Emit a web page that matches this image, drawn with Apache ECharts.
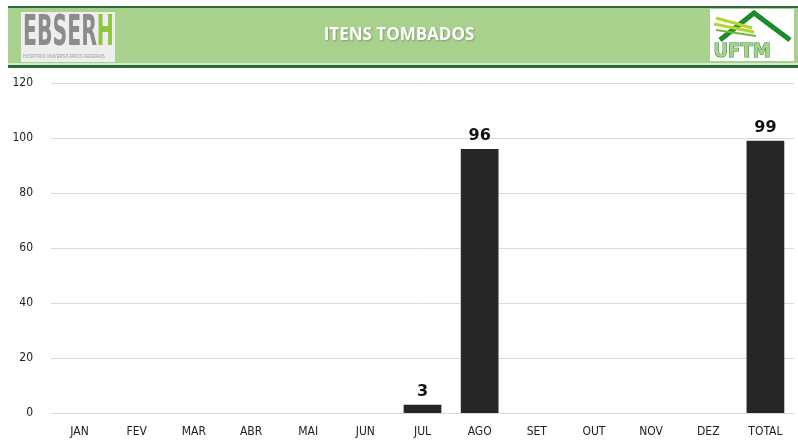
<!DOCTYPE html>
<html>
<head>
<meta charset="utf-8">
<script src="https://cdn.jsdelivr.net/npm/echarts@6/dist/echarts.min.js"></script>
<style>
  html, body { margin: 0; padding: 0; background: #fff; }
  #chart { width: 798px; height: 443px; }
</style>
</head>
<body>
<div id="chart"></div>
<script>
// chart data
const categories = ['JAN', 'FEV', 'MAR', 'ABR', 'MAI', 'JUN', 'JUL', 'AGO', 'SET', 'OUT', 'NOV', 'DEZ', 'TOTAL'];
const values = [null, null, null, null, null, null, 3, 96, null, null, null, null, 99];
const chartTitle = 'ITENS TOMBADOS';

const chart = echarts.init(document.getElementById('chart'));

const logoFont = 'bold 42px "DejaVu Sans Condensed", sans-serif';

const option = {
  animation: false,
  textStyle: { fontFamily: 'DejaVu Sans Condensed, Liberation Sans, sans-serif' },
  grid: { left: 51, right: 4, top: 83, bottom: 30 },
  graphic: [
    // header band
    { type: 'rect', shape: { x: 8, y: 6, width: 790, height: 2 }, style: { fill: '#2e6b3a' } },
    { type: 'rect', shape: { x: 8, y: 8, width: 790, height: 57 }, style: { fill: '#a9d18e' } },
    { type: 'rect', shape: { x: 8, y: 63, width: 790, height: 2 }, style: { fill: '#d6ead0' } },
    { type: 'rect', shape: { x: 8, y: 65, width: 790, height: 3 }, style: { fill: '#2e6b3a' } },
    // left logo
    { type: 'rect', shape: { x: 21, y: 12, width: 94, height: 50 }, style: { fill: '#eeeeee' } },
    {
      type: 'text', x: 23, y: 16, scaleX: 0.54,
      style: {
        text: '{g|EBSER}{h|H}',
        rich: {
          g: { fill: '#8c8c8c', font: logoFont, lineHeight: 36 },
          h: { fill: '#8dc63f', font: logoFont, lineHeight: 36 }
        }
      }
    },
    { type: 'text', x: 23, y: 54, scaleX: 0.85, style: { text: 'HOSPITAIS UNIVERSITÁRIOS FEDERAIS', fill: '#9a9a9a', font: '5px sans-serif' } },
    // title
    { type: 'text', left: 'center', top: 27, style: { text: chartTitle, fill: '#ffffff', font: 'bold 17px "Open Sans", sans-serif', textShadowColor: 'rgba(0,0,0,0.25)', textShadowBlur: 2, textShadowOffsetX: 1, textShadowOffsetY: 1 } },
    // right logo
    { type: 'rect', shape: { x: 710, y: 9, width: 84, height: 52 }, style: { fill: '#ffffff' } },
    { type: 'polyline', shape: { points: [[720, 40], [754, 13], [790, 40]] }, style: { stroke: '#1e8a2e', lineWidth: 5, fill: null } },
    { type: 'line', shape: { x1: 716, y1: 18, x2: 752, y2: 28 }, style: { stroke: '#b5d334', lineWidth: 3 } },
    { type: 'line', shape: { x1: 714, y1: 24, x2: 754, y2: 32 }, style: { stroke: '#b5d334', lineWidth: 3 } },
    { type: 'line', shape: { x1: 716, y1: 30, x2: 756, y2: 36 }, style: { stroke: '#6fb83a', lineWidth: 2 } },
    { type: 'text', left: 713, top: 41, style: { text: 'UFTM', fill: '#a9d18e', stroke: '#1e8a2e', lineWidth: 1, font: 'bold 20px "DejaVu Sans Condensed", sans-serif' } }
  ],
  xAxis: {
    type: 'category',
    data: categories,
    axisLine: { show: true, lineStyle: { color: '#d9d9d9', width: 1 } },
    axisTick: { show: false },
    axisLabel: { color: '#222', fontSize: 12, margin: 13 }
  },
  yAxis: {
    type: 'value',
    min: 0,
    max: 120,
    interval: 20,
    axisLine: { show: false },
    axisTick: { show: false },
    axisLabel: { color: '#222', fontSize: 12, margin: 18 },
    splitLine: { lineStyle: { color: '#d9d9d9', width: 1 } }
  },
  series: [{
    type: 'bar',
    data: values,
    barWidth: '66%',
    itemStyle: { color: '#262626' },
    label: {
      show: true,
      position: 'top',
      distance: 5,
      color: '#111',
      fontWeight: 'bold',
      fontSize: 16,
      fontFamily: 'DejaVu Sans, sans-serif'
    }
  }]
};

chart.setOption(option);
</script>
</body>
</html>
